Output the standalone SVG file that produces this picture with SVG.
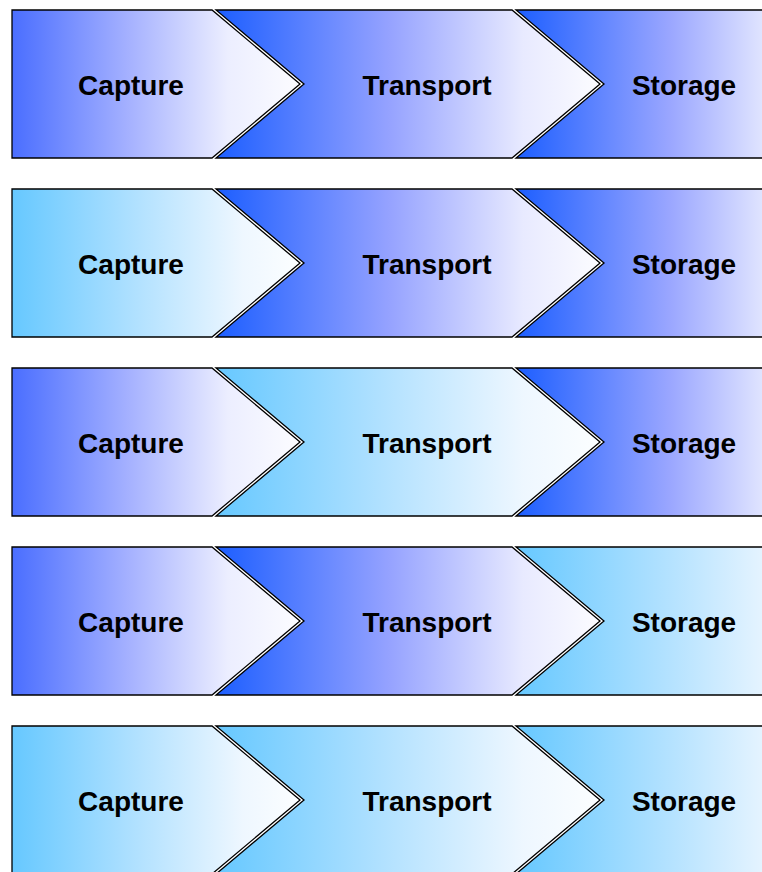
<svg xmlns="http://www.w3.org/2000/svg" width="762" height="872" viewBox="0 0 762 872">
<defs>
<linearGradient id="darkC" x1="0" y1="0" x2="1" y2="0">
<stop offset="0" stop-color="#4a6eff"/>
<stop offset="0.4" stop-color="#a4b0ff"/>
<stop offset="0.75" stop-color="#eceeff"/>
<stop offset="1" stop-color="#fcfcff"/>
</linearGradient>
<linearGradient id="dark" x1="0" y1="0" x2="1" y2="0">
<stop offset="0" stop-color="#1c5eff"/>
<stop offset="0.45" stop-color="#95a2ff"/>
<stop offset="0.8" stop-color="#e8eaff"/>
<stop offset="1" stop-color="#fcfcff"/>
</linearGradient>
<linearGradient id="darkS" x1="0" y1="0" x2="1" y2="0">
<stop offset="0" stop-color="#1c5eff"/>
<stop offset="0.4" stop-color="#9aa6ff"/>
<stop offset="0.65" stop-color="#e2e6ff"/>
<stop offset="1" stop-color="#fcfcff"/>
</linearGradient>
<linearGradient id="light" x1="0" y1="0" x2="1" y2="0">
<stop offset="0" stop-color="#66c8ff"/>
<stop offset="0.45" stop-color="#b4e2ff"/>
<stop offset="0.8" stop-color="#eef7ff"/>
<stop offset="1" stop-color="#fcfeff"/>
</linearGradient>
<linearGradient id="lightS" x1="0" y1="0" x2="1" y2="0">
<stop offset="0" stop-color="#66c8ff"/>
<stop offset="0.4" stop-color="#b4e2ff"/>
<stop offset="0.65" stop-color="#e6f4ff"/>
<stop offset="1" stop-color="#fcfeff"/>
</linearGradient>
<polygon id="capShape" points="12,10 212,10 300,84 212,158 12,158"/>
<polygon id="trShape" points="216,10 512,10 600,84 512,158 216,158 304,84"/>
<polygon id="stShape" points="516,10 812,10 900,84 812,158 516,158 604,84"/>
</defs>
<style>
.s { stroke: #000; stroke-width: 1.3; stroke-linejoin: miter; }
.t { font-family: "Liberation Sans", Arial, sans-serif; font-weight: bold; font-size: 28px; fill: #000; text-anchor: middle; }
</style>
<g id="row1">
<g id="capture1"><use href="#capShape" class="s" fill="url(#darkC)"/><text class="t" x="131" y="95">Capture</text></g>
<g id="transport1"><use href="#trShape" class="s" fill="url(#dark)"/><text class="t" x="427" y="95">Transport</text></g>
<g id="storage1"><use href="#stShape" class="s" fill="url(#darkS)"/><text class="t" x="684" y="95">Storage</text></g>
</g>
<g id="row2" transform="translate(0,179)">
<g id="capture2"><use href="#capShape" class="s" fill="url(#light)"/><text class="t" x="131" y="95">Capture</text></g>
<g id="transport2"><use href="#trShape" class="s" fill="url(#dark)"/><text class="t" x="427" y="95">Transport</text></g>
<g id="storage2"><use href="#stShape" class="s" fill="url(#darkS)"/><text class="t" x="684" y="95">Storage</text></g>
</g>
<g id="row3" transform="translate(0,358)">
<g id="capture3"><use href="#capShape" class="s" fill="url(#darkC)"/><text class="t" x="131" y="95">Capture</text></g>
<g id="transport3"><use href="#trShape" class="s" fill="url(#light)"/><text class="t" x="427" y="95">Transport</text></g>
<g id="storage3"><use href="#stShape" class="s" fill="url(#darkS)"/><text class="t" x="684" y="95">Storage</text></g>
</g>
<g id="row4" transform="translate(0,537)">
<g id="capture4"><use href="#capShape" class="s" fill="url(#darkC)"/><text class="t" x="131" y="95">Capture</text></g>
<g id="transport4"><use href="#trShape" class="s" fill="url(#dark)"/><text class="t" x="427" y="95">Transport</text></g>
<g id="storage4"><use href="#stShape" class="s" fill="url(#lightS)"/><text class="t" x="684" y="95">Storage</text></g>
</g>
<g id="row5" transform="translate(0,716)">
<g id="capture5"><use href="#capShape" class="s" fill="url(#light)"/><text class="t" x="131" y="95">Capture</text></g>
<g id="transport5"><use href="#trShape" class="s" fill="url(#light)"/><text class="t" x="427" y="95">Transport</text></g>
<g id="storage5"><use href="#stShape" class="s" fill="url(#lightS)"/><text class="t" x="684" y="95">Storage</text></g>
</g>
<g id="connectors"/>
</svg>
